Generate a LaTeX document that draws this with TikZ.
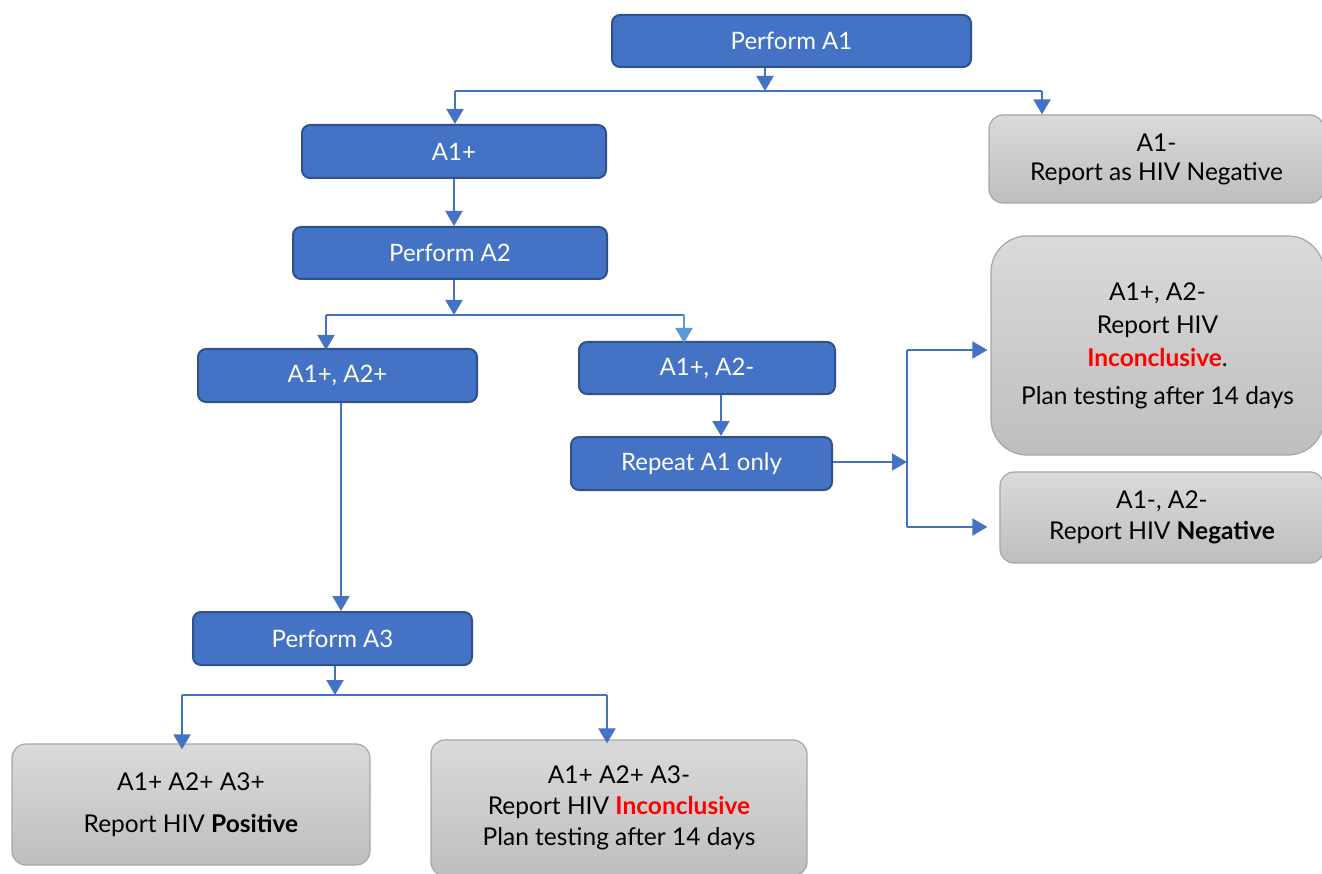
\documentclass[tikz,border=0pt]{standalone}
\usepackage{fontspec}
\setmainfont{Lato}
\usetikzlibrary{arrows.meta}
\definecolor{boxblue}{HTML}{4472C4}
\definecolor{boxedge}{HTML}{2F528F}
\definecolor{lightarrow}{HTML}{5B9BD5}
\definecolor{greytop}{HTML}{DADADA}
\definecolor{greybot}{HTML}{BEBEBE}
\definecolor{greyedge}{HTML}{A6A6A6}
\definecolor{alertred}{HTML}{FF0000}
\tikzset{
  bluebox/.style={draw=boxedge, line width=2pt, fill=boxblue, rounded corners=8pt,
    text=white, font=\fontsize{24}{28}\selectfont, inner sep=0pt},
  greybox/.style={draw=greyedge, line width=1.2pt, top color=greytop, bottom color=greybot,
    rounded corners=14pt, text=black, align=center, inner sep=0pt},
  link/.style={draw=boxblue, line width=2pt},
  tip/.style={-{Triangle[width=17pt,length=15pt]}},
  arr/.style={link, tip},
}
\newcommand{\alert}[1]{\textcolor{alertred}{\textbf{#1}}}
\begin{document}
\begin{tikzpicture}[x=1pt,y=-1pt]
\useasboundingbox (0,0) rectangle (1322,874);

% process boxes
\node[bluebox, minimum width=359pt, minimum height=52pt] (pa1) at (791.5,41) {Perform A1};
\node[bluebox, minimum width=304pt, minimum height=53pt] (a1p) at (454,151.5) {A1+};
\node[bluebox, minimum width=314pt, minimum height=52pt] (pa2) at (450,253) {Perform A2};
\node[bluebox, minimum width=279pt, minimum height=53pt] (a2p) at (337.5,375.5) {A1+, A2+};
\node[bluebox, minimum width=256pt, minimum height=52pt] (a2n) at (707,368) {A1+, A2-};
\node[bluebox, minimum width=261pt, minimum height=53pt] (rep) at (701.5,463.5) {Repeat A1 only};
\node[bluebox, minimum width=279pt, minimum height=53pt] (pa3) at (332.5,638.5) {Perform A3};

% result boxes
\node[greybox, minimum width=335pt, minimum height=88pt,
  font=\fontsize{24.5}{29}\selectfont] (neg1) at (1156.5,159)
  {A1-\\Report as HIV Negative};
\node[greybox, minimum width=333pt, minimum height=219pt, rounded corners=36pt,
  font=\fontsize{24.5}{33}\selectfont] (inc1) at (1157.5,345.5)
  {A1+, A2-\\Report HIV\\\alert{Inconclusive}.\\[5pt]Plan testing after 14 days};
\node[greybox, minimum width=324pt, minimum height=91pt,
  font=\fontsize{24.5}{31}\selectfont] (neg2) at (1162,517.5)
  {A1-, A2-\\Report HIV \textbf{Negative}};
\node[greybox, minimum width=358pt, minimum height=121pt,
  font=\fontsize{24.5}{42}\selectfont] (pos) at (191,804.5)
  {A1+ A2+ A3+\\Report HIV \textbf{Positive}};
\node[greybox, minimum width=376pt, minimum height=136pt,
  font=\fontsize{24.5}{31}\selectfont] (inc2) at (619,808)
  {A1+ A2+ A3-\\Report HIV \alert{Inconclusive}\\Plan testing after 14 days};

% branch points
\coordinate (j1) at (765,91);
\coordinate (j1l) at (455,91);
\coordinate (j1r) at (1042,91);
\coordinate (j2) at (454,315);
\coordinate (j2l) at (326,315);
\coordinate (j2r) at (684,315);
\coordinate (j3) at (907,462);
\coordinate (j3t) at (907,350);
\coordinate (j3b) at (907,527);
\coordinate (j4) at (335,695);
\coordinate (j4l) at (182,695);
\coordinate (j4r) at (607,695);

% first test
\draw[arr] (pa1.south -| j1) -- (j1);
\draw[link] (j1l) -- (j1r);
\draw[arr] (j1l) -- (a1p.north -| j1l);
\draw[arr] (j1r) -- (neg1.north -| j1r);

% second test
\draw[arr] (a1p.south) -- (a1p.south |- pa2.north);
\draw[arr] (pa2.south -| j2) -- (j2);
\draw[link] (j2l) -- (j2r);
\draw[arr] (j2l) -- ([yshift=-2pt]a2p.north -| j2l);
\draw[link, draw=lightarrow, tip] (j2r) -- ([yshift=-2pt]a2n.north -| j2r);

% repeat branch
\draw[arr] (a2n.south -| rep.north) ++(19.5,0) -- ([xshift=19.5pt]rep.north);
\draw[arr] (rep.east |- j3) -- (j3);
\draw[link] (j3t) -- (j3b);
\draw[arr] (j3t) -- ([xshift=-3pt]inc1.west |- j3t);
\draw[arr] (j3b) -- ([xshift=-12pt]neg2.west |- j3b);

% third test
\draw[arr] (a2p.south -| pa3.north) ++(8.5,0) -- ([xshift=8.5pt]pa3.north);
\draw[arr] (pa3.south -| j4) -- (j4);
\draw[link] (j4l) -- (j4r);
\draw[arr] (j4l) -- ([yshift=-6pt]pos.north -| j4l);
\draw[arr] (j4r) -- ([yshift=-4pt]inc2.north -| j4r);
\end{tikzpicture}
\end{document}
